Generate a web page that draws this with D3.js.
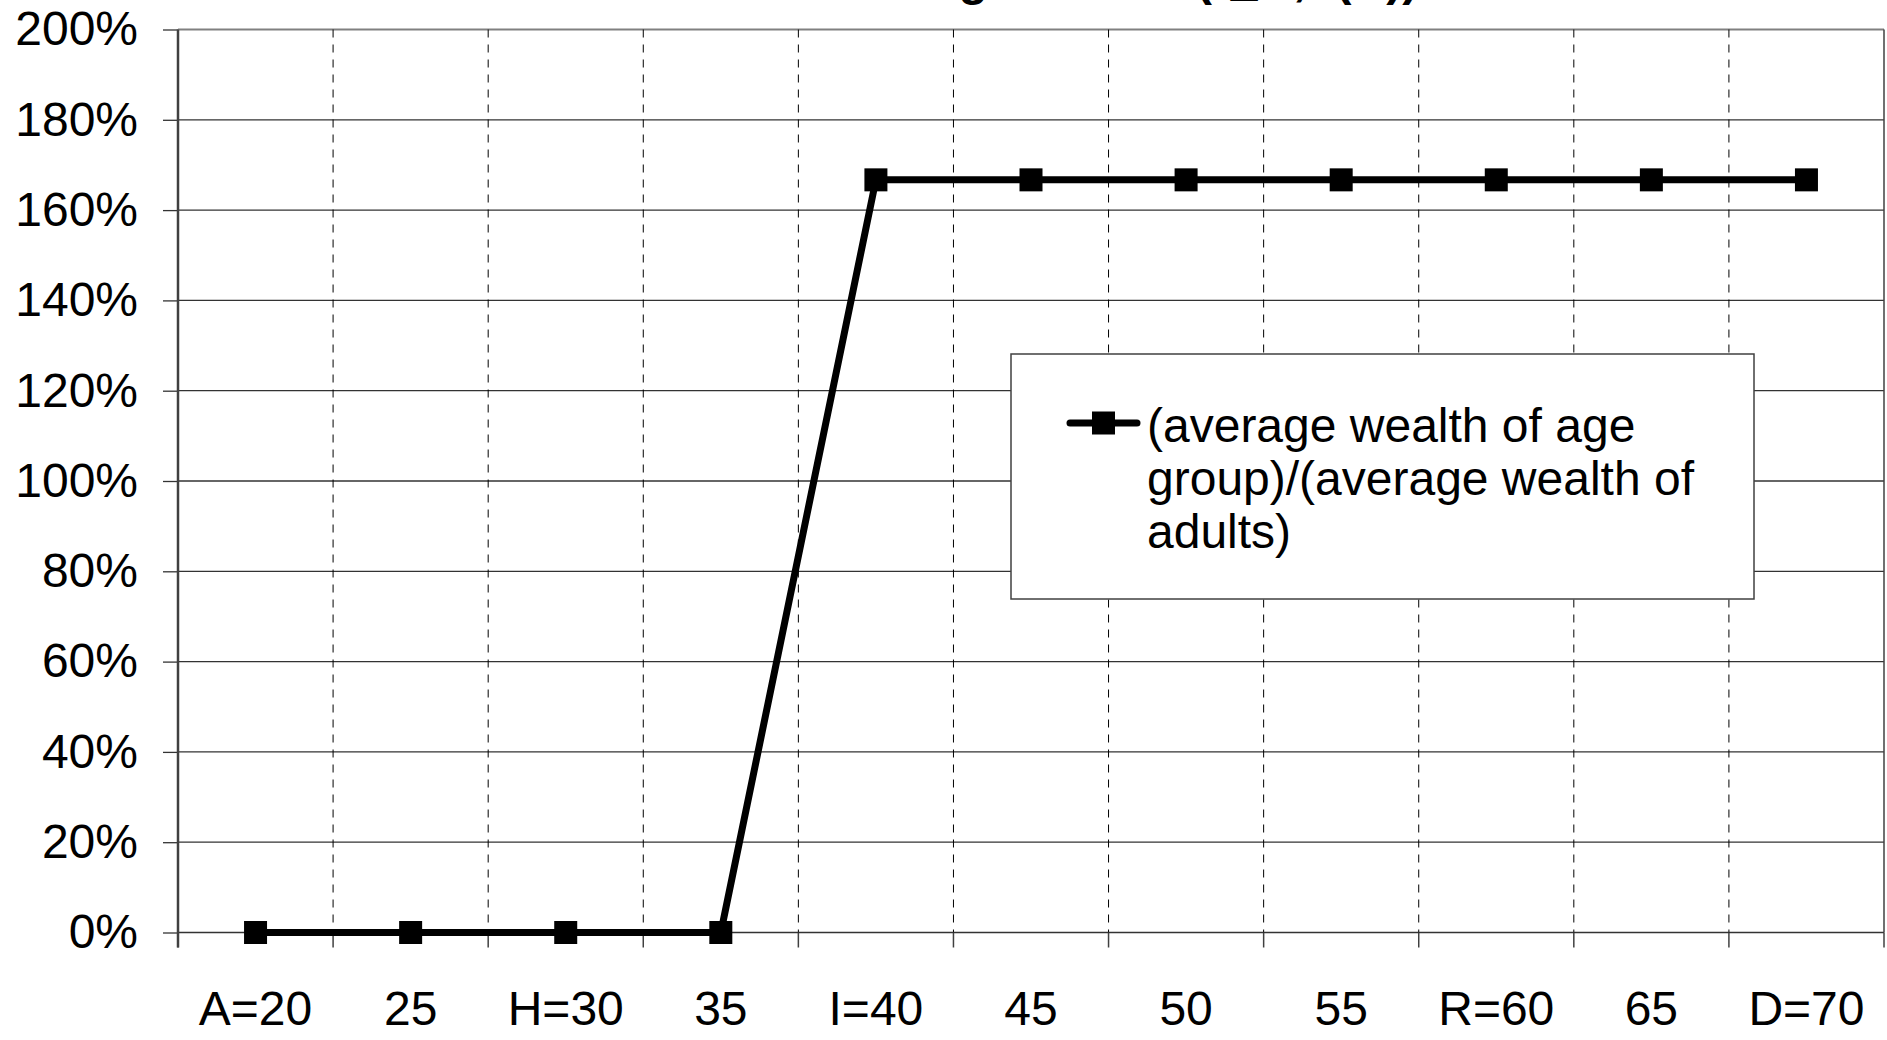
<!DOCTYPE html>
<html>
<head>
<meta charset="utf-8">
<script src="https://cdn.jsdelivr.net/npm/d3@7"></script>
<style>
  body { margin: 0; background: #fff; }
  svg { display: block; font-family: "Liberation Sans", Arial, sans-serif; }
</style>
</head>
<body>
<svg id="chart"></svg>
<script>
// categories (age groups) and the one series
let ageLabels = ["A=20", "25", "H=30", "35", "I=40", "45", "50", "55", "R=60", "65", "D=70"];
let wealthRatio = [0, 0, 0, 0, 1.667, 1.667, 1.667, 1.667, 1.667, 1.667, 1.667];
let yTicks = [0, 0.2, 0.4, 0.6, 0.8, 1.0, 1.2, 1.4, 1.6, 1.8, 2.0];
let legendLines = ["(average wealth of age", "group)/(average wealth of", "adults)"];
let titleText = "Relative wealth at each age in time (r_w, t(R))";

var svgWidth = 1887, svgHeight = 1040;
var margin = { top: 29.5, right: 3, bottom: 107.5, left: 178 };
var width = svgWidth - margin.left - margin.right;
var height = svgHeight - margin.top - margin.bottom;

var svg = d3.select("#chart")
  .attr("width", svgWidth)
  .attr("height", svgHeight);

// title sits mostly above the picture, only its descenders show (as in the original)
svg.append("text")
  .attr("x", 393)
  .attr("y", -5)
  .attr("font-size", 48)
  .attr("font-weight", "bold")
  .text(titleText);

var g = svg.append("g")
  .attr("transform", "translate(" + margin.left + "," + margin.top + ")");

var x = d3.scaleBand()
  .domain(ageLabels)
  .range([0, width])
  .padding(0);

var y = d3.scaleLinear()
  .domain([0, 2])
  .range([height, 0]);

// y ticks + labels
var yAxis = g.append("g")
  .call(d3.axisLeft(y)
    .tickValues(yTicks)
    .tickFormat(d3.format(".0%"))
    .tickSize(15)
    .tickPadding(25));
yAxis.select(".domain").remove();
yAxis.selectAll(".tick line").attr("stroke", "#333").attr("stroke-width", 1.3);
yAxis.selectAll(".tick text")
  .attr("font-size", 48)
  .attr("fill", "#000")
  .attr("font-family", "Liberation Sans, Arial, sans-serif");

// horizontal gridlines
g.append("g")
  .selectAll("line")
  .data(yTicks)
  .enter().append("line")
  .attr("x1", 0)
  .attr("x2", width)
  .attr("y1", function(d) { return y(d); })
  .attr("y2", function(d) { return y(d); })
  .attr("stroke", function(d) { return d == 2 ? "#808080" : "#333"; })
  .attr("stroke-width", function(d) { return d == 2 ? 2 : 1.3; });

// vertical gridlines on the category boundaries
var bounds = ageLabels.map(function(d) { return x(d); }).concat([x.range()[1]]);
g.append("g")
  .selectAll("line")
  .data(bounds.slice(1, -1))
  .enter().append("line")
  .attr("x1", function(d) { return d; })
  .attr("x2", function(d) { return d; })
  .attr("y1", 0)
  .attr("y2", height)
  .attr("stroke", "#000")
  .attr("stroke-width", 1)
  .attr("stroke-dasharray", "8,7");

// x ticks below the axis
g.append("g")
  .selectAll("line")
  .data(bounds)
  .enter().append("line")
  .attr("x1", function(d) { return d; })
  .attr("x2", function(d) { return d; })
  .attr("y1", height)
  .attr("y2", height + 15)
  .attr("stroke", "#404040")
  .attr("stroke-width", 1.5);

// right border and left axis
g.append("line")
  .attr("x1", width).attr("x2", width)
  .attr("y1", 0).attr("y2", height)
  .attr("stroke", "#404040").attr("stroke-width", 1.5);
g.append("line")
  .attr("x1", 0).attr("x2", 0)
  .attr("y1", 0).attr("y2", height + 15)
  .attr("stroke", "#404040").attr("stroke-width", 2.5);

// x labels
var xAxis = g.append("g")
  .attr("transform", "translate(0," + height + ")")
  .call(d3.axisBottom(x).tickSize(0).tickPadding(58));
xAxis.select(".domain").remove();
xAxis.selectAll(".tick text")
  .attr("font-size", 48)
  .attr("fill", "#000")
  .attr("font-family", "Liberation Sans, Arial, sans-serif");

// the series
var line = d3.line()
  .x(function(d, i) { return x(ageLabels[i]) + x.bandwidth() / 2; })
  .y(function(d) { return y(d); });

g.append("path")
  .datum(wealthRatio)
  .attr("fill", "none")
  .attr("stroke", "#000")
  .attr("stroke-width", 7)
  .attr("stroke-linejoin", "round")
  .attr("d", line);

var mk = 23;
g.selectAll(".marker")
  .data(wealthRatio)
  .enter().append("rect")
  .attr("class", "marker")
  .attr("x", function(d, i) { return x(ageLabels[i]) + x.bandwidth() / 2 - mk / 2; })
  .attr("y", function(d) { return y(d) - mk / 2; })
  .attr("width", mk)
  .attr("height", mk)
  .attr("fill", "#000");

// legend
var legend = svg.append("g").attr("transform", "translate(1011,354)");
legend.append("rect")
  .attr("width", 743)
  .attr("height", 245)
  .attr("fill", "#fff")
  .attr("stroke", "#404040")
  .attr("stroke-width", 1.5);
legend.append("line")
  .attr("x1", 59).attr("x2", 126)
  .attr("y1", 69).attr("y2", 69)
  .attr("stroke", "#000")
  .attr("stroke-width", 7)
  .attr("stroke-linecap", "round");
legend.append("rect")
  .attr("x", 92.5 - mk / 2).attr("y", 69 - mk / 2)
  .attr("width", mk).attr("height", mk)
  .attr("fill", "#000");
legend.selectAll(".ltext")
  .data(legendLines)
  .enter().append("text")
  .attr("class", "ltext")
  .attr("x", 136)
  .attr("y", function(d, i) { return 88 + i * 53; })
  .attr("font-size", 48)
  .text(function(d) { return d; });
</script>
</body>
</html>
